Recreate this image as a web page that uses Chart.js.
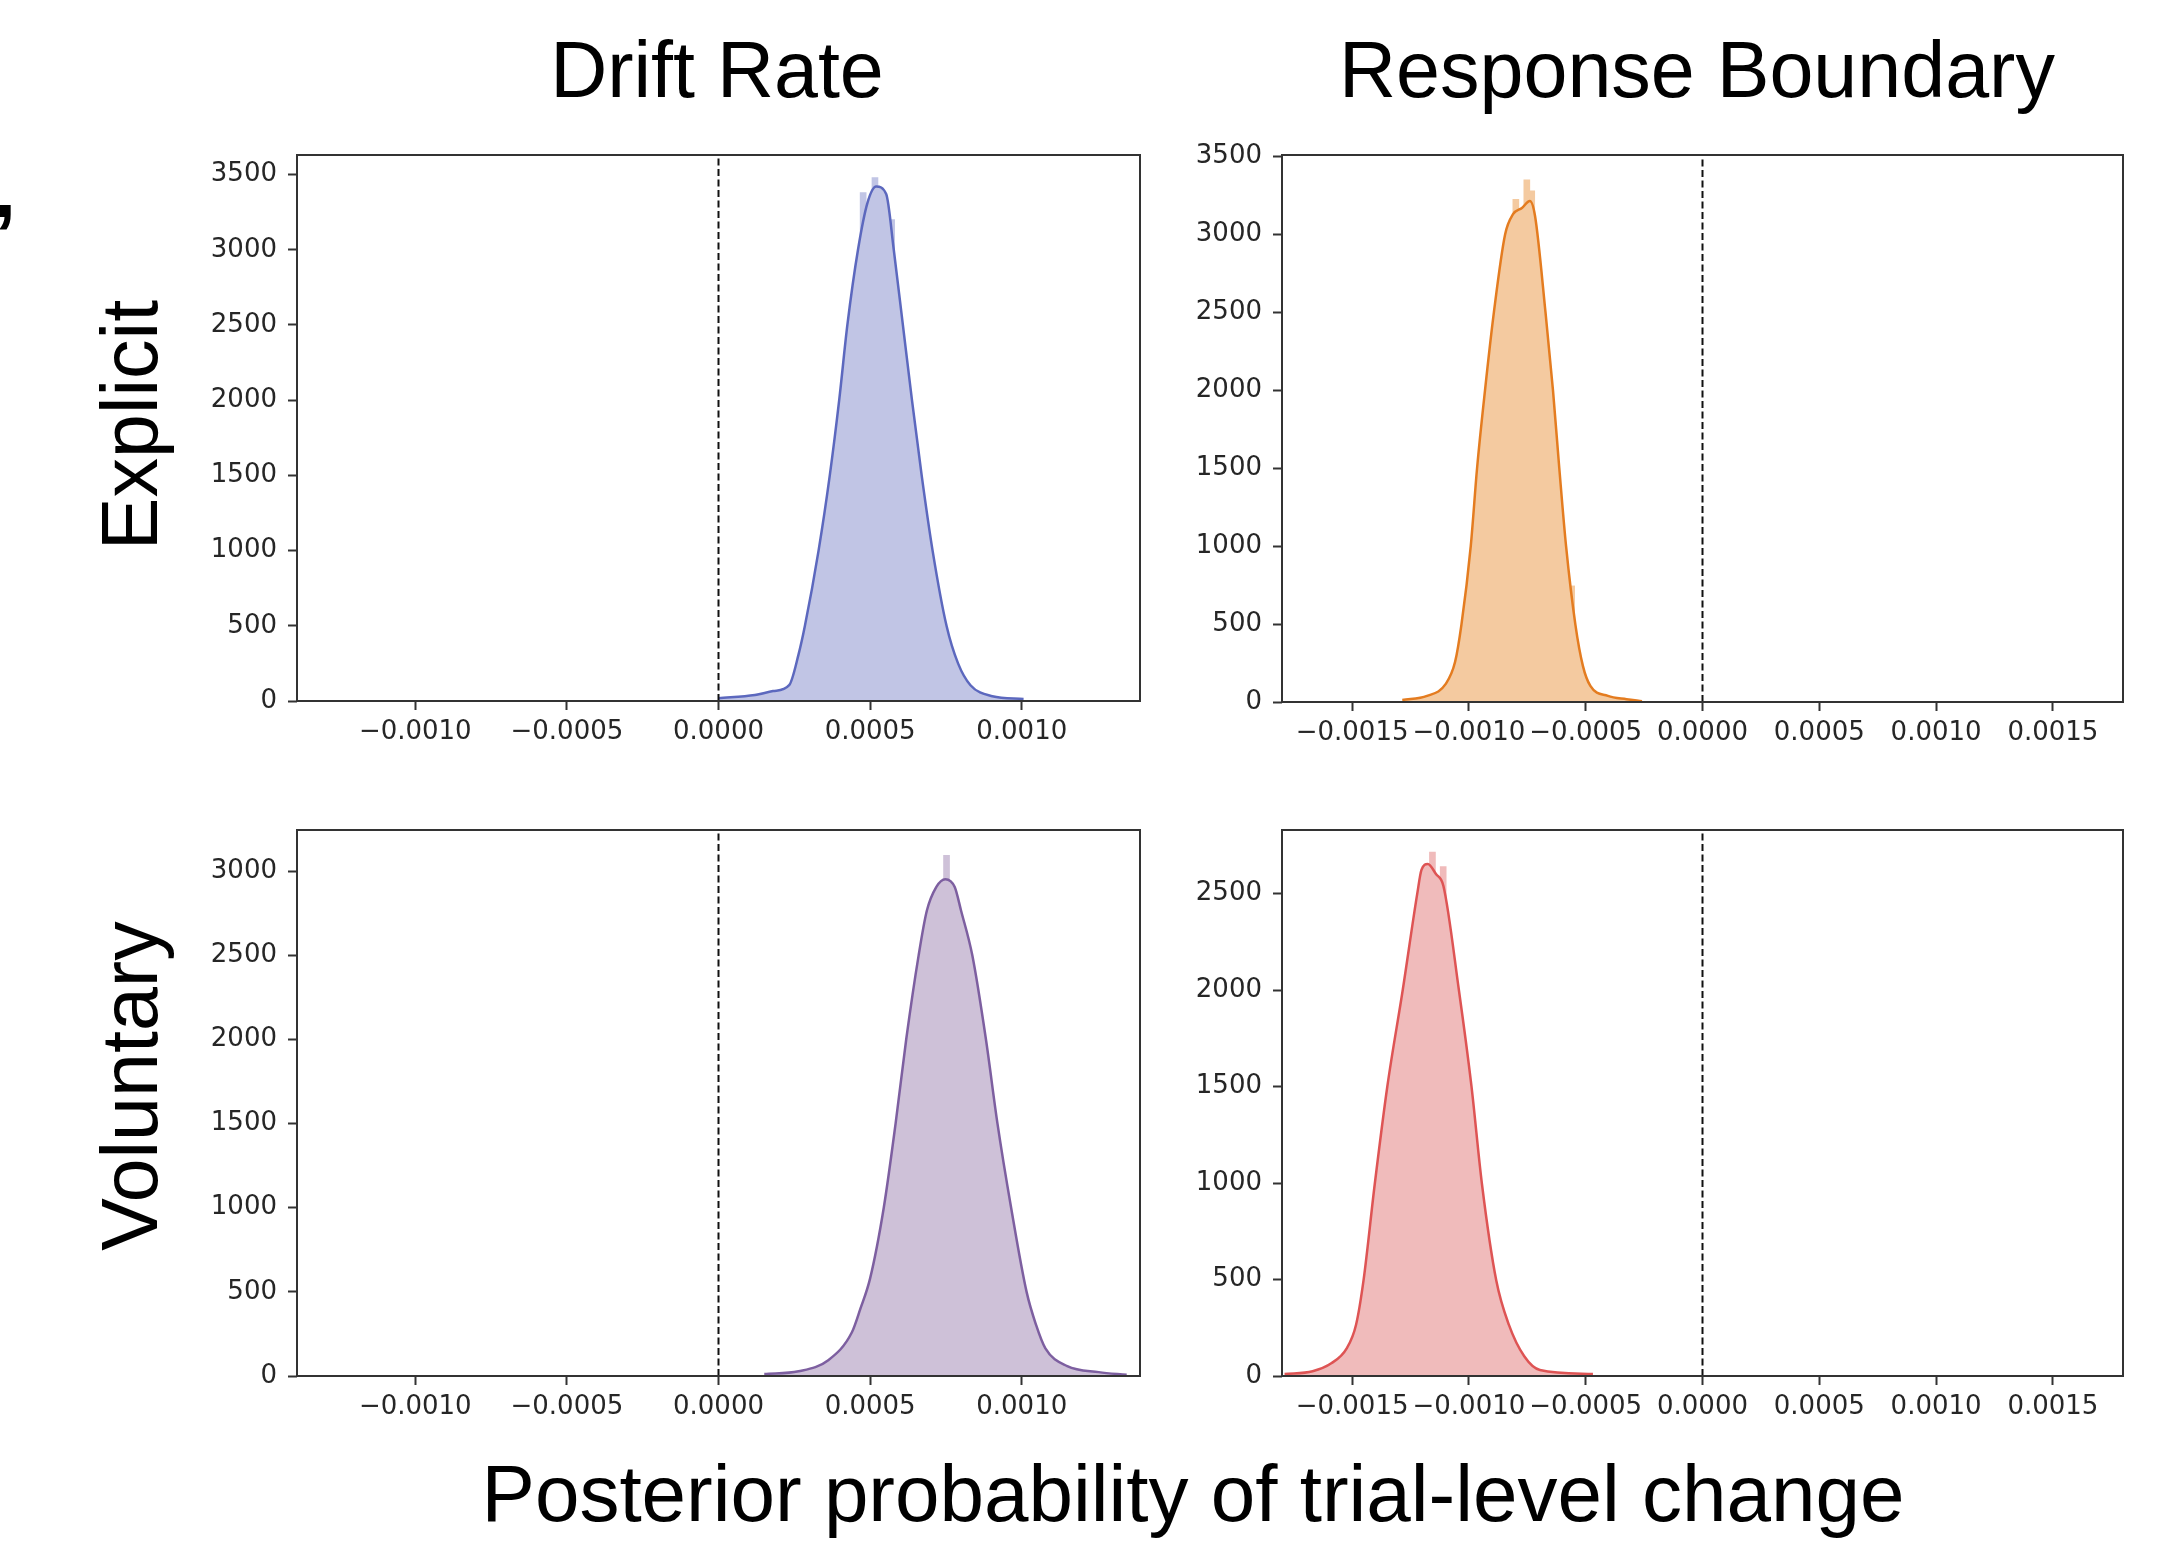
<!DOCTYPE html>
<html>
<head>
<meta charset="utf-8">
<script src="https://cdn.jsdelivr.net/npm/chart.js@4.4.0/dist/chart.umd.min.js"></script>
<style>
  html, body { margin: 0; padding: 0; background: #fff; }
  body { width: 2170px; height: 1544px; position: relative; overflow: hidden;
         font-family: 'Liberation Sans', Arial, sans-serif; }
  .label { position: absolute; font-size: 79px; line-height: 80px; color: #000; white-space: nowrap; }
  .col { width: 900px; text-align: center; top: 30px; }
  .row { width: 600px; height: 80px; text-align: center; transform: rotate(-90deg); }
  canvas { position: absolute; }
</style>
</head>
<body>
<div class="label col" style="left: 267px;">Drift Rate</div>
<div class="label col" style="left: 1247px;">Response Boundary</div>
<div class="label row" style="left: -170px; top: 385px;">Explicit</div>
<div class="label row" style="left: -170px; top: 1046px;">Voluntary</div>
<div class="label" style="left: 293px; width: 1800px; text-align: center; top: 1454px; font-size: 80px;">Posterior probability of trial-level change</div>
<div class="label" style="left: -6px; top: 150px; font-weight: bold;">,</div>

<canvas id="driftExplicit"></canvas>
<canvas id="boundaryExplicit"></canvas>
<canvas id="driftVoluntary"></canvas>
<canvas id="boundaryVoluntary"></canvas>

<script>
// tick values
const driftTicks = [-0.0010, -0.0005, 0, 0.0005, 0.0010];
const boundaryTicks = [-0.0015, -0.0010, -0.0005, 0, 0.0005, 0.0010, 0.0015];
const countTicks3500 = [0, 500, 1000, 1500, 2000, 2500, 3000, 3500];
const countTicks3000 = [0, 500, 1000, 1500, 2000, 2500, 3000];
const countTicks2500 = [0, 500, 1000, 1500, 2000, 2500];

// Drift Rate, Explicit (KDE curve + a few histogram bins sticking out)
const driftExplicitX = [0.0, 0.00012, 0.00018, 0.000233, 0.000264, 0.000285, 0.00033, 0.000367, 0.000398, 0.000425,
  0.00046, 0.000491, 0.00052, 0.000553, 0.000578, 0.000608, 0.000638, 0.00067, 0.000706, 0.000752,
  0.00079, 0.000831, 0.000903, 0.001006];
const driftExplicitY = [18, 40, 66, 105, 310, 500, 1000, 1500, 2000, 2500,
  3000, 3310, 3420, 3370, 3000, 2500, 2000, 1500, 1000, 500,
  250, 105, 32, 13];
const driftExplicitBinX = [0.000477, 0.000516, 0.000571];
const driftExplicitBinY = [3380, 3480, 3200];

// Response Boundary, Explicit
const boundaryExplicitX = [-0.001285, -0.001179, -0.001099, -0.001059, -0.001032, -0.000992, -0.000965, -0.000931,
  -0.000893, -0.000845, -0.000811, -0.000773, -0.000739, -0.000717, -0.000672, -0.00064, -0.000613,
  -0.000584, -0.000544, -0.000512, -0.00048, -0.000405, -0.000325, -0.000259];
const boundaryExplicitY = [13, 39, 116, 258, 495, 1000, 1500, 2000,
  2500, 3000, 3130, 3170, 3215, 3120, 2500, 2000, 1500,
  1000, 495, 232, 103, 39, 18, 5];
const boundaryExplicitBinX = [-0.000799, -0.000752, -0.000731, -0.00056];
const boundaryExplicitBinY = [3225, 3350, 3280, 745];

// Drift Rate, Voluntary
const driftVoluntaryX = [0.000151, 0.000264, 0.000362, 0.00044, 0.000468, 0.0005, 0.000545, 0.000584, 0.000619,
  0.00066, 0.000687, 0.000718, 0.000748, 0.000779, 0.0008, 0.000837, 0.000882, 0.00092, 0.000965,
  0.001016, 0.001047, 0.001078, 0.00115, 0.001254, 0.001346];
const driftVoluntaryY = [12, 28, 94, 260, 400, 580, 1000, 1500, 2000,
  2500, 2765, 2906, 2953, 2906, 2765, 2500, 2000, 1500, 1000,
  500, 305, 164, 59, 23, 7];
const driftVoluntaryBinX = [0.000752];
const driftVoluntaryBinY = [3095];

// Response Boundary, Voluntary
const boundaryVoluntaryX = [-0.001789, -0.001669, -0.001589, -0.001523, -0.001483, -0.001451, -0.001403, -0.001349,
  -0.001283, -0.001221, -0.001203, -0.001176, -0.001141, -0.001109, -0.001043, -0.000989, -0.000944,
  -0.000883, -0.000829, -0.000763, -0.000696, -0.000469];
const boundaryVoluntaryY = [10, 25, 66, 143, 266, 496, 994, 1502,
  2002, 2500, 2623, 2654, 2602, 2540, 2002, 1502, 994,
  496, 266, 102, 31, 10];
const boundaryVoluntaryBinX = [-0.001156, -0.00111];
const boundaryVoluntaryBinY = [2715, 2640];

const tickFont = { family: 'DejaVu Sans', size: 26 };
const tickColor = '#262626';
const spineColor = '#333333';

function fmtX(v) {
  const s = Math.abs(v).toFixed(4);
  return (v < -1e-12 ? '\u2212' : '') + s;
}

function points(xs, ys) {
  return xs.map(function(x, i) { return { x: x, y: ys[i] }; });
}

const framePlugin = {
  id: 'frame',
  afterDraw(chart) {
    const ctx = chart.ctx;
    const a = chart.chartArea;
    ctx.save();
    ctx.strokeStyle = spineColor;
    ctx.lineWidth = 2;
    ctx.strokeRect(a.left, a.top, a.right - a.left, a.bottom - a.top);
    ctx.restore();
  }
};

function makePanel(id, box, s) {
  const padL = 110, padT = 30, padR = 50, padB = 60;
  const canvas = document.getElementById(id);
  canvas.width = box.w + padL + padR;
  canvas.height = box.h + padT + padB;
  canvas.style.left = (box.left - padL) + 'px';
  canvas.style.top = (box.top - padT) + 'px';

  return new Chart(canvas, {
    type: 'line',
    data: {
      datasets: [{
        label: 'zero',
        data: [{ x: 0, y: 0 }, { x: 0, y: s.yMax }],
        borderColor: '#111111',
        borderWidth: 2,
        borderDash: [7, 3.5],
        pointRadius: 0,
        fill: false,
        order: 0
      }, {
        label: 'kde',
        data: points(s.x, s.y),
        borderColor: s.line,
        backgroundColor: s.fill,
        fill: 'origin',
        borderWidth: 2.5,
        pointRadius: 0,
        cubicInterpolationMode: 'monotone',
        order: 1
      }, {
        type: 'bar',
        label: 'bins',
        data: points(s.binX, s.binY),
        backgroundColor: s.fill,
        borderWidth: 0,
        barThickness: 6,
        order: 2
      }]
    },
    options: {
      responsive: false,
      animation: false,
      devicePixelRatio: 1,
      layout: { padding: { left: 0, top: padT, right: padR, bottom: 0 } },
      plugins: { legend: { display: false }, tooltip: { enabled: false } },
      scales: {
        x: {
          type: 'linear',
          min: -s.xLim,
          max: s.xLim,
          offset: false,
          afterBuildTicks: function(axis) {
            axis.ticks = s.xTicks.map(function(v) { return { value: v }; });
          },
          afterFit: function(axis) { axis.height = padB; },
          ticks: {
            callback: fmtX,
            font: tickFont,
            color: tickColor,
            padding: 7,
            maxRotation: 0,
            autoSkip: false
          },
          grid: { display: true, offset: false, drawOnChartArea: false, drawTicks: true, tickLength: 9, tickWidth: 2, tickColor: spineColor },
          border: { display: false }
        },
        y: {
          type: 'linear',
          min: 0,
          max: s.yMax,
          afterBuildTicks: function(axis) {
            axis.ticks = s.yTicks.map(function(v) { return { value: v }; });
          },
          afterFit: function(axis) { axis.width = padL; },
          ticks: {
            callback: function(v) { return String(v); },
            font: tickFont,
            color: tickColor,
            padding: 11,
            autoSkip: false
          },
          grid: { display: true, offset: false, drawOnChartArea: false, drawTicks: true, tickLength: 9, tickWidth: 2, tickColor: spineColor },
          border: { display: false }
        }
      }
    },
    plugins: [framePlugin]
  });
}

makePanel('driftExplicit', { left: 297, top: 155, w: 843, h: 546 }, {
  x: driftExplicitX, y: driftExplicitY, binX: driftExplicitBinX, binY: driftExplicitBinY,
  xLim: 0.00139, yMax: 3630, xTicks: driftTicks, yTicks: countTicks3500,
  line: 'rgb(92,104,190)', fill: 'rgb(193,197,229)'
});

makePanel('boundaryExplicit', { left: 1282, top: 155, w: 841, h: 547 }, {
  x: boundaryExplicitX, y: boundaryExplicitY, binX: boundaryExplicitBinX, binY: boundaryExplicitBinY,
  xLim: 0.0018, yMax: 3510, xTicks: boundaryTicks, yTicks: countTicks3500,
  line: 'rgb(228,124,32)', fill: 'rgb(244,202,160)'
});

makePanel('driftVoluntary', { left: 297, top: 830, w: 843, h: 546 }, {
  x: driftVoluntaryX, y: driftVoluntaryY, binX: driftVoluntaryBinX, binY: driftVoluntaryBinY,
  xLim: 0.00139, yMax: 3245, xTicks: driftTicks, yTicks: countTicks3000,
  line: 'rgb(125,95,160)', fill: 'rgb(206,193,216)'
});

makePanel('boundaryVoluntary', { left: 1282, top: 830, w: 841, h: 546 }, {
  x: boundaryVoluntaryX, y: boundaryVoluntaryY, binX: boundaryVoluntaryBinX, binY: boundaryVoluntaryBinY,
  xLim: 0.0018, yMax: 2830, xTicks: boundaryTicks, yTicks: countTicks2500,
  line: 'rgb(222,84,84)', fill: 'rgb(240,187,187)'
});
</script>
</body>
</html>
